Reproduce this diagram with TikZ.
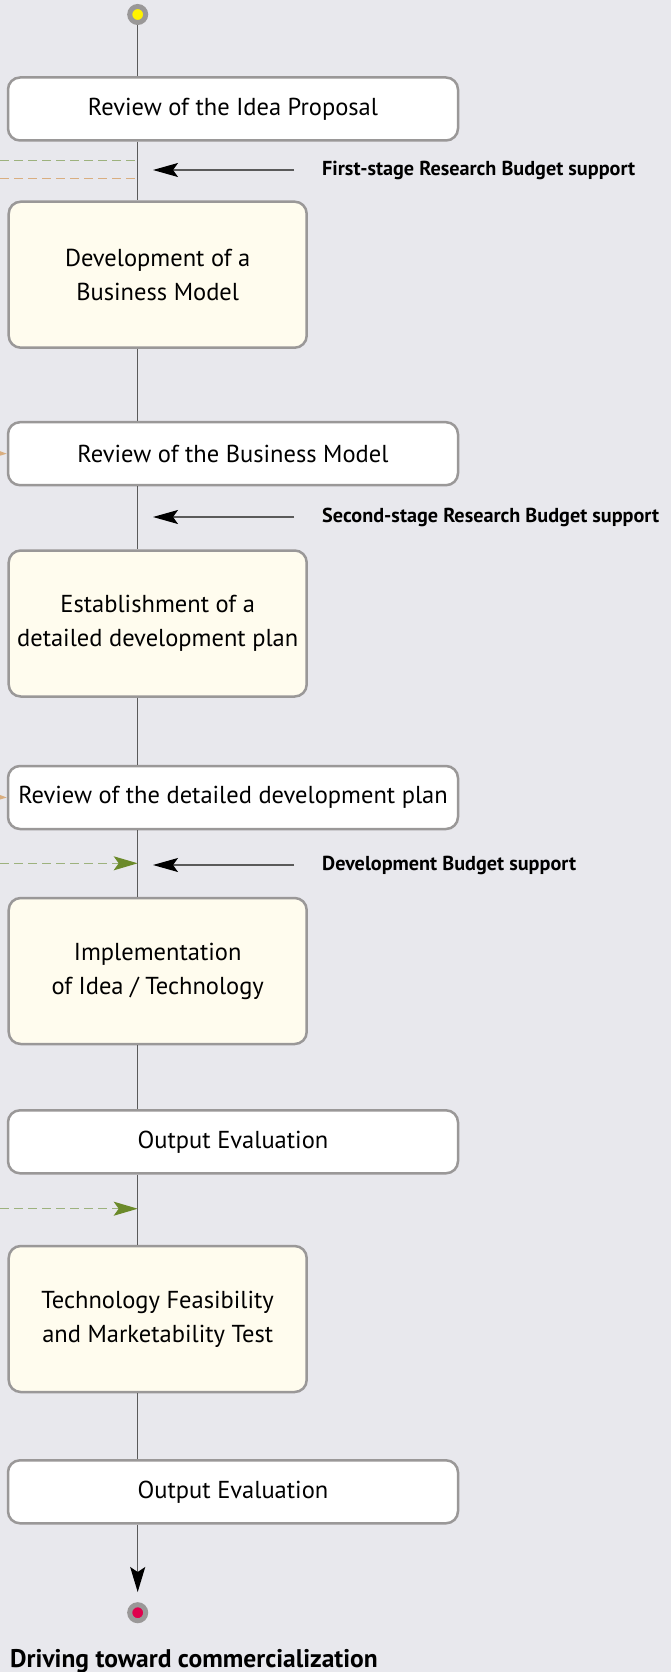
\documentclass[tikz,border=0pt]{standalone}
\usepackage{fontspec}
\setmainfont{PT Sans}
\usetikzlibrary{arrows.meta,positioning}

\definecolor{bgGray}{HTML}{E8E8ED}
\definecolor{boxLine}{HTML}{9A9898}
\definecolor{creamFill}{HTML}{FFFCEE}
\definecolor{spineGray}{HTML}{5A5A5A}
\definecolor{greenDash}{HTML}{9DB27E}
\definecolor{greenTip}{HTML}{6B8A2A}
\definecolor{orangeDash}{HTML}{D9AE80}
\definecolor{startYellow}{HTML}{FFF200}
\definecolor{endRed}{HTML}{E0004D}

\begin{document}
\begin{tikzpicture}
      [x=1pt,y=-1pt,
       reviewBox/.style={draw=boxLine,line width=2.5pt,fill=white,rounded corners=12pt,
         minimum width=450pt,minimum height=63pt,inner sep=0pt,align=center,
         font=\fontsize{24.5}{34}\selectfont},
       workBox/.style={reviewBox,fill=creamFill,minimum width=298pt,minimum height=146pt},
       endPoint/.style={circle,draw=boxLine,line width=5pt,minimum size=16pt,inner sep=0pt},
       spine/.style={draw=spineGray,line width=1.4pt},
       feedArrow/.style={draw=spineGray,line width=1.2pt,shorten <=28pt,
         -{Stealth[length=25pt,width=14pt,inset=5pt,color=black]}},
       feedLabel/.style={anchor=west,inner sep=0pt,font=\fontsize{20.2}{24}\bfseries\selectfont},
       greenFlow/.style={draw=greenDash,line width=1.3pt,dash pattern=on 9pt off 5pt},
       orangeFlow/.style={draw=orangeDash,line width=1.3pt,dash pattern=on 9pt off 5pt}]
      \fill[bgGray] (0,0) rectangle (671,1672);
      \useasboundingbox (0,0) rectangle (671,1672);
      \clip (0,0) rectangle (671,1672);

      \node[endPoint,fill=startYellow] (start) at (137.7,14.5) {};
      \node[reviewBox] (b1) at (233,109) {Review of the Idea Proposal};
      \node[workBox] (b2) at (157.7,274.7) {Development of a\\Business Model};
      \node[reviewBox] (b3) at (233,453.7) {Review of the Business Model};
      \node[workBox] (b4) at (157.7,623.5) {Establishment of a\\detailed development plan};
      \node[reviewBox] (b5) at (233,797.5) {Review of the detailed development plan};
      \node[workBox] (b6) at (157.7,971) {Implementation\\of Idea / Technology};
      \node[reviewBox] (b7) at (233,1141.8) {Output Evaluation};
      \node[workBox] (b8) at (157.7,1319) {Technology Feasibility\\and Marketability Test};
      \node[reviewBox] (b9) at (233,1491.8) {Output Evaluation};
      \node[endPoint,fill=endRed] (stop) at (137.7,1612.7) {};
      \node[anchor=base west,inner sep=0pt,font=\fontsize{25.5}{30}\bfseries\selectfont] (goal)
        at (10,1667) {Driving toward commercialization};

      \foreach \from/\to in {start/b1,b1/b2,b2/b3,b3/b4,b4/b5,b5/b6,b6/b7,b7/b8,b8/b9}
      \draw[spine] (\from.south -| start) -- (\to.north -| start);

      \coordinate (down) at (137.7,1592);
      \draw[spine,-{Stealth[length=25pt,width=15pt,inset=5pt,color=black]}] (b9.south -| start) -- (down);

      % budget support coming in from the right
      \node[feedLabel] (f1) at (322,170) {First-stage Research Budget support};
      \node[feedLabel] (f2) at (322,517) {Second-stage Research Budget support};
      \node[feedLabel] (f3) at (322,865) {Development Budget support};
      \coordinate (in1) at (153,170);
      \coordinate (in2) at (153,517);
      \coordinate (in3) at (153,865);
      \foreach \from/\to in {f1/in1,f2/in2,f3/in3}
      \draw[feedArrow] (\from.west) -- (\to);

      % dashed flows from the left side
      \coordinate (g1) at (0,160.7);
      \coordinate (o1) at (0,178.3);
      \coordinate (g2) at (0,863.3);
      \coordinate (g3) at (0,1208.7);
      \coordinate (o2) at (-40,452);
      \coordinate (o3) at (-40,796);
      \draw[greenFlow] (g1) -- (g1 -| start);
      \draw[orangeFlow] (o1) -- (o1 -| start);
      \foreach \from in {g2,g3}
      \draw[greenFlow,-{Stealth[length=24pt,width=14pt,inset=5pt,color=greenTip]}] (\from) -- (\from -| start);
      \foreach \from/\to in {o2/b3,o3/b5}
      \draw[orangeFlow,-{Stealth[length=18pt,width=12pt,inset=4pt,color=orangeDash]}] (\from) -- (\to.west);
    \end{tikzpicture}
\end{document}
